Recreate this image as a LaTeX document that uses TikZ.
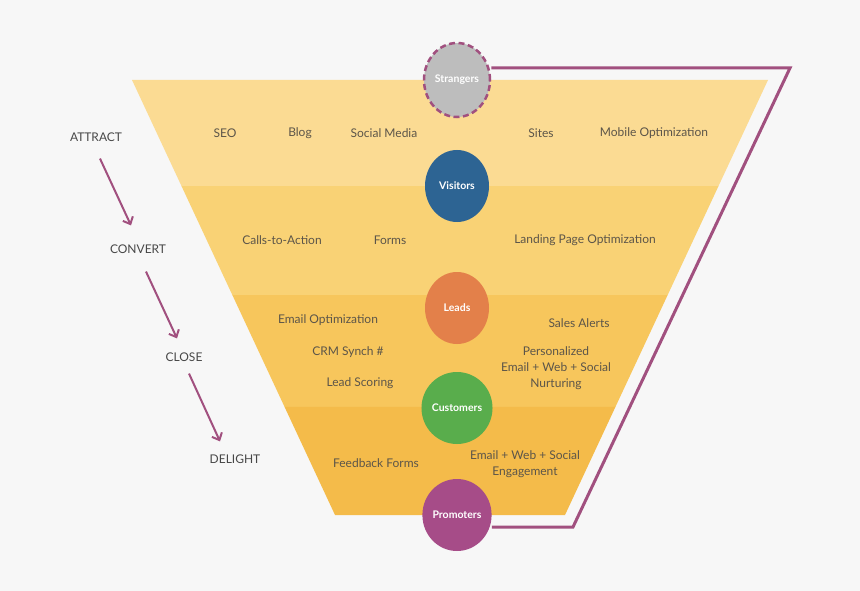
\documentclass[tikz,border=0pt]{standalone}
\usepackage{fontspec}
\setmainfont{Lato}
\usepackage{tikz}
\usetikzlibrary{arrows.meta,shapes.geometric,calc}

\definecolor{bgray}{HTML}{F7F7F7}
\definecolor{bandA}{HTML}{FBDB93}
\definecolor{bandB}{HTML}{F9D275}
\definecolor{bandC}{HTML}{F7C65C}
\definecolor{bandD}{HTML}{F4BB4A}
\definecolor{plum}{HTML}{A1507F}
\definecolor{strangergray}{HTML}{BDBDBD}
\definecolor{visitorblue}{HTML}{2D6493}
\definecolor{leadorange}{HTML}{E3804A}
\definecolor{customergreen}{HTML}{59AD4C}
\definecolor{promoterplum}{HTML}{A64C88}
\definecolor{itemtext}{HTML}{5C5549}
\definecolor{stagetext}{HTML}{474747}

\tikzset{
  item/.style={text=itemtext, font=\fontsize{12}{16}\selectfont, align=center, inner sep=1pt},
  stage/.style={text=stagetext, font=\fontsize{12}{14}\selectfont, inner sep=2pt},
  stage arrow/.style={draw=plum, line width=2pt, -{Straight Barb[length=6pt,width=11pt]}},
  funnel circle/.style={ellipse, minimum width=64pt, minimum height=72pt, inner sep=0pt,
    text=white, font=\bfseries\fontsize{10.5}{12}\selectfont},
  loop line/.style={draw=plum, line width=3pt}
}

\begin{document}
\begin{tikzpicture}[x=1pt,y=-1pt]
\fill[bgray] (0,0) rectangle (860,591);

\coordinate (tl) at (132,80);
\coordinate (tr) at (768,80);
\coordinate (bl) at (335,515);
\coordinate (br) at (565,515);
\foreach \a/\b/\c in {0/0.2437/bandA, 0.2437/0.4943/bandB, 0.4943/0.7517/bandC, 0.7517/1/bandD}
  \fill[\c] ($(tl)!\a!(bl)$) -- ($(tr)!\a!(br)$) -- ($(tr)!\b!(br)$) -- ($(tl)!\b!(bl)$) -- cycle;

\draw (225,133) node (seo)      [item] {SEO};
\draw (300,133) node (blog)     [item] {Blog};
\draw (384,133) node (socmedia) [item] {Social Media};
\draw (541,133) node (sites)    [item] {Sites};
\draw (654,133) node (mobopt)   [item] {Mobile Optimization};

\draw (282,240) node (cta)      [item] {Calls-to-Action};
\draw (390,240) node (forms)    [item] {Forms};
\draw (585,240) node (landing)  [item] {Landing Page Optimization};

\draw (328,320) node (emailopt) [item] {Email Optimization};
\draw (348,352) node (crm)      [item] {CRM Synch \#};
\draw (360,383) node (scoring)  [item] {Lead Scoring};
\draw (579,323) node (alerts)   [item] {Sales Alerts};
\draw (556,368) node (nurture)  [item] {Personalized\\Email + Web + Social\\Nurturing};

\draw (376,463) node (feedback) [item] {Feedback Forms};
\draw (525,464) node (engage)   [item] {Email + Web + Social\\Engagement};

\draw (457,80)  node (strangers) [funnel circle, fill=strangergray, draw=plum, line width=2.5pt,
  dash pattern=on 6pt off 3.5pt, minimum width=66pt, minimum height=74pt] {Strangers};
\draw (457,186) node (visitors)  [funnel circle, fill=visitorblue] {Visitors};
\draw (457,308) node (leads)     [funnel circle, fill=leadorange] {Leads};
\draw (457,408) node (customers) [funnel circle, fill=customergreen] {Customers};
\draw (457,515) node (promoters) [funnel circle, fill=promoterplum] {Promoters};

\coordinate (loopTR) at (790,68);
\coordinate (loopBR) at (573,527);
\draw[loop line] (strangers.east |- loopTR) -- (loopTR) -- (loopBR) -- (loopBR -| promoters.east);

\draw (96,137)  node (attract) [stage] {ATTRACT};
\draw (138,249) node (convert) [stage] {CONVERT};
\draw (184,357) node (close)   [stage] {CLOSE};
\draw (235,459) node (delight) [stage] {DELIGHT};
\draw[stage arrow] ([xshift=4pt,yshift=-15pt]attract.south) -- ([xshift=-7pt,yshift=17pt]convert.north);
\draw[stage arrow] ([xshift=8pt,yshift=-16pt]convert.south) -- ([xshift=-7pt,yshift=12pt]close.north);
\draw[stage arrow] ([xshift=5pt,yshift=-10pt]close.south) -- ([xshift=-15pt,yshift=11pt]delight.north);
\end{tikzpicture}
\end{document}
